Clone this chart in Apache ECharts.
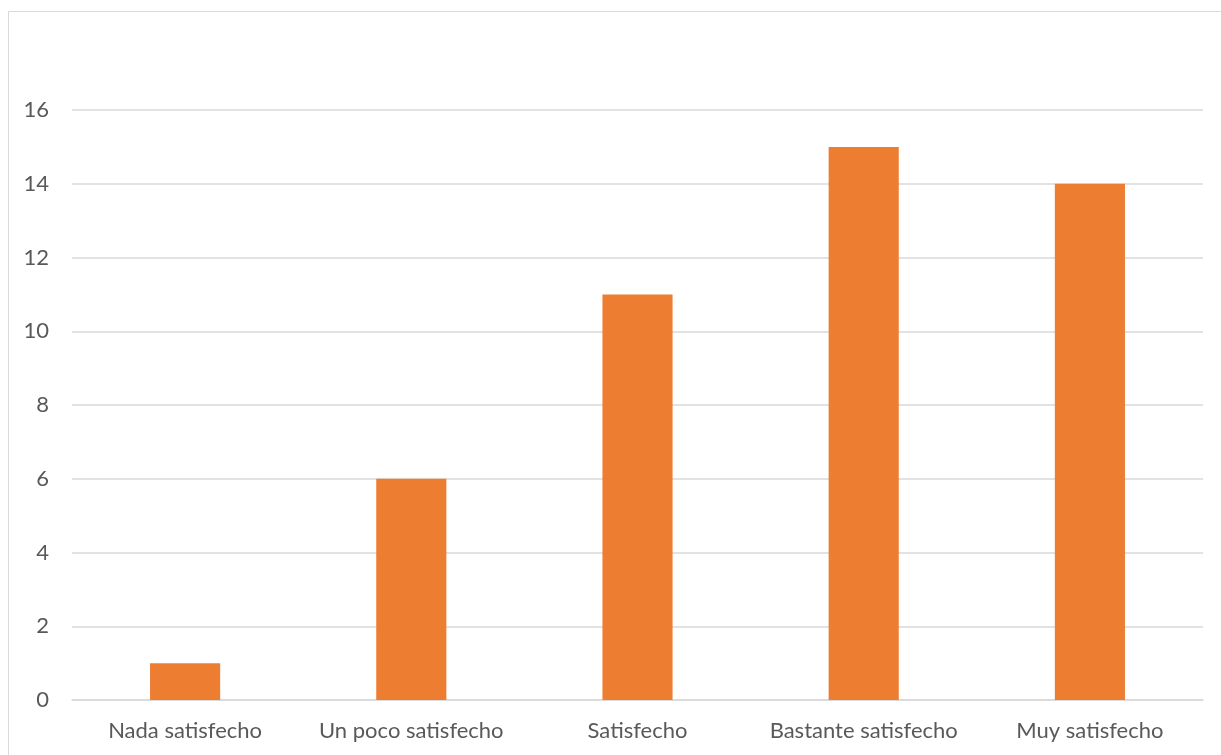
<!DOCTYPE html>
<html>
<head>
<meta charset="utf-8">
<style>
  html, body { margin: 0; padding: 0; background: #ffffff; }
  #chart { width: 1221px; height: 755px; }
</style>
<script src="https://cdn.jsdelivr.net/npm/echarts@6/dist/echarts.min.js"></script>
</head>
<body>
<div id="chart"></div>
<script>
// Satisfaction levels and number of responses in each
const categories = ['Nada satisfecho', 'Un poco satisfecho', 'Satisfecho', 'Bastante satisfecho', 'Muy satisfecho'];
const counts = [1, 6, 11, 15, 14];

const chart = echarts.init(document.getElementById('chart'), null, { renderer: 'canvas' });
const textColor = '#595959';
const fontFamily = 'Lato, "Open Sans", sans-serif';

chart.setOption({
  animation: false,
  backgroundColor: '#ffffff',
  graphic: [{
    type: 'rect',
    shape: { x: 8.5, y: 11.5, width: 1300, height: 800 },
    style: { fill: 'none', stroke: '#d9d9d9', lineWidth: 1 },
    silent: true
  }],
  grid: { left: 72, right: 18, top: 110, bottom: 55, containLabel: false },
  xAxis: {
    type: 'category',
    data: categories,
    axisLine: { show: true, lineStyle: { color: '#d9d9d9', width: 1.5 } },
    axisTick: { show: false },
    axisLabel: { color: textColor, fontSize: 22, fontFamily: fontFamily, margin: 20, interval: 0 }
  },
  yAxis: {
    type: 'value',
    min: 0,
    max: 16,
    interval: 2,
    axisLine: { show: false },
    axisTick: { show: false },
    splitLine: { lineStyle: { color: '#d9d9d9', width: 1.5 } },
    axisLabel: { color: textColor, fontSize: 22, fontFamily: fontFamily, margin: 23 }
  },
  series: [{
    type: 'bar',
    data: counts,
    barWidth: '31%',
    itemStyle: { color: '#ED7D31' }
  }]
});
</script>
</body>
</html>
